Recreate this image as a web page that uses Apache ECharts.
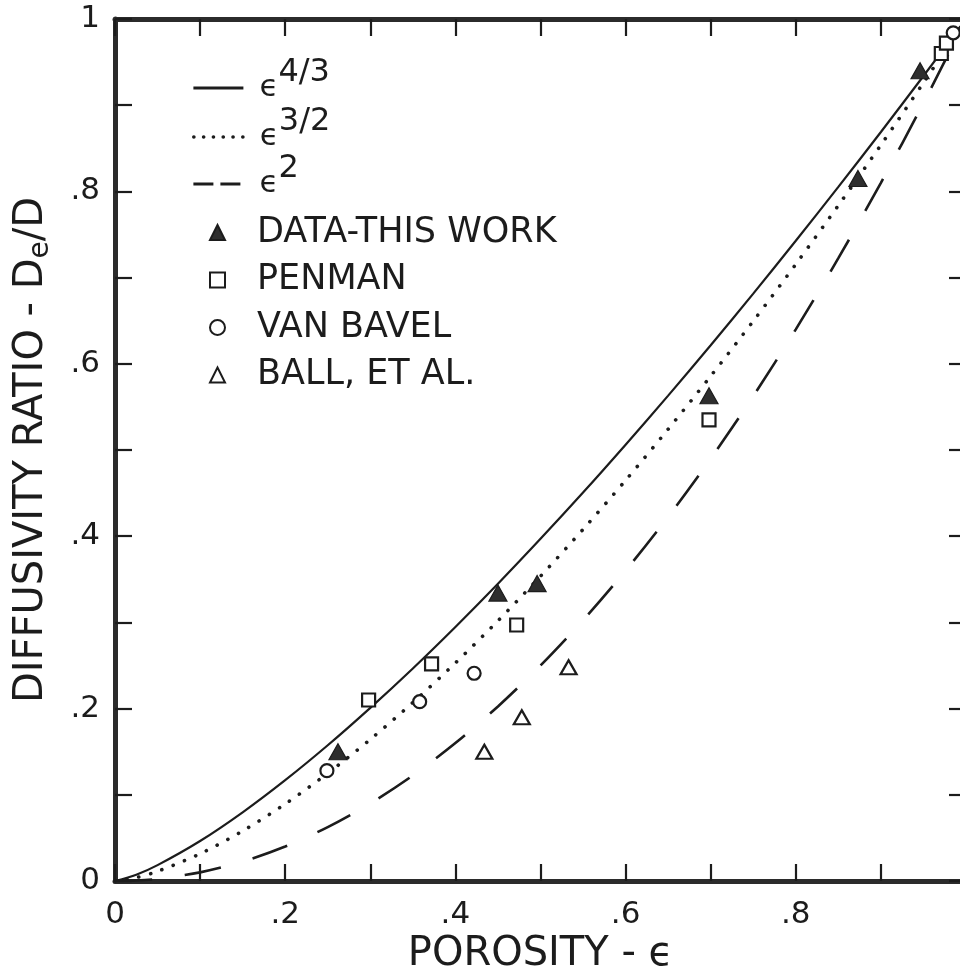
<!DOCTYPE html>
<html>
<head>
<meta charset="utf-8">
<script src="https://cdn.jsdelivr.net/npm/echarts@6/dist/echarts.min.js"></script>
<style>
html,body{margin:0;padding:0;background:#fff;}
#chart{width:960px;height:977px;}
</style>
</head>
<body>
<div id="chart"></div>
<script>
// ---- data ----
const curveX = [0, 0.025, 0.05, 0.1, 0.15, 0.2, 0.25, 0.3, 0.35, 0.4, 0.45, 0.5, 0.55, 0.6, 0.65, 0.7, 0.75, 0.8, 0.85, 0.9, 0.95, 1];
const curve43 = [0, 0.0073, 0.0184, 0.0464, 0.0797, 0.1170, 0.1575, 0.2009, 0.2466, 0.2947, 0.3448, 0.3969, 0.4506, 0.5061, 0.5631, 0.6215, 0.6814, 0.7427, 0.8052, 0.8689, 0.9339, 1];
const curve32 = [0, 0.0040, 0.0112, 0.0316, 0.0581, 0.0894, 0.1250, 0.1643, 0.2071, 0.2530, 0.3019, 0.3536, 0.4079, 0.4648, 0.5241, 0.5857, 0.6495, 0.7155, 0.7837, 0.8538, 0.9260, 1];
const curve2  = [0, 0.0006, 0.0025, 0.0100, 0.0225, 0.0400, 0.0625, 0.0900, 0.1225, 0.1600, 0.2025, 0.2500, 0.3025, 0.3600, 0.4225, 0.4900, 0.5625, 0.6400, 0.7225, 0.8100, 0.9025, 1];

const thisWorkX = [0.262, 0.450, 0.496, 0.698, 0.873, 0.946];
const thisWorkY = [0.150, 0.334, 0.345, 0.563, 0.815, 0.940];
const penmanX   = [0.298, 0.372, 0.472, 0.698, 0.971, 0.977];
const penmanY   = [0.210, 0.252, 0.297, 0.535, 0.960, 0.972];
const vanBavelX = [0.249, 0.358, 0.422, 0.985];
const vanBavelY = [0.128, 0.208, 0.241, 0.984];
const ballX     = [0.434, 0.478, 0.533];
const ballY     = [0.150, 0.190, 0.248];

const xTickLabels = {0: '0', 2: '.2', 4: '.4', 6: '.6', 8: '.8'};
const yTickLabels = {0: '0', 2: '.2', 4: '.4', 6: '.6', 8: '.8', 10: '1'};

// ---- chart ----
const FONT = 'DejaVu Sans';
const INK = '#1c1c1c';
const zip = (xs, ys) => xs.map((x, i) => [x, ys[i]]);

const N43 = 'ε^(4/3)', N32 = 'ε^(3/2)', N2 = 'ε^2';
const NDATA = 'DATA-THIS WORK', NPEN = 'PENMAN', NVAN = 'VAN BAVEL', NBALL = 'BALL, ET AL.';
const legendRich = {
  e: {fontFamily: FONT, fontSize: 31, color: INK, padding: [0, 0, 0, 11]},
  s: {fontFamily: FONT, fontSize: 32, color: INK, padding: [0, 0, 30, 0]}
};
const legendText = {
  [N43]: '{e|ϵ}{s|4/3}',
  [N32]: '{e|ϵ}{s|3/2}',
  [N2]: '{e|ϵ}{s|2}'
};

function lineLegend(name, top, lineStyle) {
  const item = {name: name};
  if (lineStyle) item.lineStyle = lineStyle;
  return {
    data: [item],
    left: 192, top: top, padding: 0, orient: 'vertical',
    itemWidth: 50, itemHeight: 14, selectedMode: false,
    itemStyle: {opacity: 0},
    lineStyle: {width: 2.8},
    formatter: n => legendText[n],
    textStyle: {rich: legendRich, fontFamily: FONT, fontSize: 31, color: INK}
  };
}
function markLegend(names, top) {
  return {
    data: names, left: 209, top: top, padding: 0, orient: 'vertical',
    itemWidth: 15, itemHeight: 15, itemGap: 12.5, selectedMode: false,
    textStyle: {fontFamily: FONT, fontSize: 35, color: INK, lineHeight: 34, padding: [0, 0, 0, 27]}
  };
}

function axisCommon(extra) {
  return Object.assign({
    type: 'value', min: 0, max: 1, interval: 0.1,
    axisLine: {show: true, onZero: false, lineStyle: {color: '#2b2b2b', width: 5}},
    axisTick: {show: true, inside: true, length: 17, lineStyle: {color: INK, width: 2.2}},
    splitLine: {show: false}
  }, extra);
}

const chart = echarts.init(document.getElementById('chart'), null, {renderer: 'canvas'});
chart.setOption({
  animation: false,
  backgroundColor: '#ffffff',
  grid: {left: 115, top: 19, width: 851, height: 862, containLabel: false, outerBoundsMode: 'none'},
  xAxis: [
    axisCommon({
      position: 'bottom',
      axisLabel: {
        margin: 18, fontFamily: FONT, fontSize: 31, color: INK,
        formatter: v => xTickLabels[Math.round(v * 10)] || ''
      },
      name: 'POROSITY - ϵ', nameLocation: 'middle', nameGap: 53,
      nameTextStyle: {fontFamily: FONT, fontSize: 40, color: INK}
    }),
    axisCommon({position: 'top', axisLabel: {show: false}})
  ],
  yAxis: [
    axisCommon({
      position: 'left',
      axisLabel: {
        margin: 15, fontFamily: FONT, fontSize: 31, color: INK,
        formatter: v => yTickLabels[Math.round(v * 10)] || ''
      },
      name: 'DIFFUSIVITY RATIO - D{sub|e}/D', nameLocation: 'middle', nameGap: 60,
      nameTextStyle: {
        fontFamily: FONT, fontSize: 40, color: INK,
        rich: {sub: {fontFamily: FONT, fontSize: 28, color: INK, padding: [18, 0, 0, 0]}}
      }
    }),
    axisCommon({position: 'right', axisLabel: {show: false}})
  ],
  legend: [
    lineLegend(N43, 89 - 32),
    lineLegend(N32, 138 - 32, {type: [0.1, 9.7], cap: 'round', width: 3.6}),
    lineLegend(N2, 185 - 32, {type: [20, 7], width: 2.8}),
    markLegend([NDATA, NPEN, NVAN, NBALL], 232 - 17)
  ],
  series: [
    {name: N43, type: 'line', data: zip(curveX, curve43), smooth: 0.3, showSymbol: false, symbol: 'none',
     itemStyle: {color: INK}, lineStyle: {color: INK, width: 2.2}, z: 2},
    {name: N32, type: 'line', data: zip(curveX, curve32), smooth: 0.3, showSymbol: false, symbol: 'none',
     itemStyle: {color: INK}, lineStyle: {color: INK, width: 3.6, type: [0.1, 12], cap: 'round'}, z: 2},
    {name: N2, type: 'line', data: zip(curveX, curve2), smooth: 0.3, showSymbol: false, symbol: 'none',
     itemStyle: {color: INK}, lineStyle: {color: INK, width: 2.6, type: [37, 33]}, z: 2},
    {name: NDATA, type: 'scatter', data: zip(thisWorkX, thisWorkY), symbol: 'triangle', symbolSize: [18, 16],
     itemStyle: {color: '#2e2e2e', borderColor: INK, borderWidth: 1.2, opacity: 1}, z: 4},
    {name: NPEN, type: 'scatter', data: zip(penmanX, penmanY), symbol: 'rect', symbolSize: 13,
     itemStyle: {color: '#ffffff', borderColor: INK, borderWidth: 2.2, opacity: 1}, z: 3},
    {name: NVAN, type: 'scatter', data: zip(vanBavelX, vanBavelY), symbol: 'circle', symbolSize: 13,
     itemStyle: {color: '#ffffff', borderColor: INK, borderWidth: 2.2, opacity: 1}, z: 3},
    {name: NBALL, type: 'scatter', data: zip(ballX, ballY), symbol: 'triangle', symbolSize: [16, 14],
     itemStyle: {color: '#ffffff', borderColor: INK, borderWidth: 2.2, opacity: 1}, z: 3}
  ]
});
</script>
</body>
</html>
